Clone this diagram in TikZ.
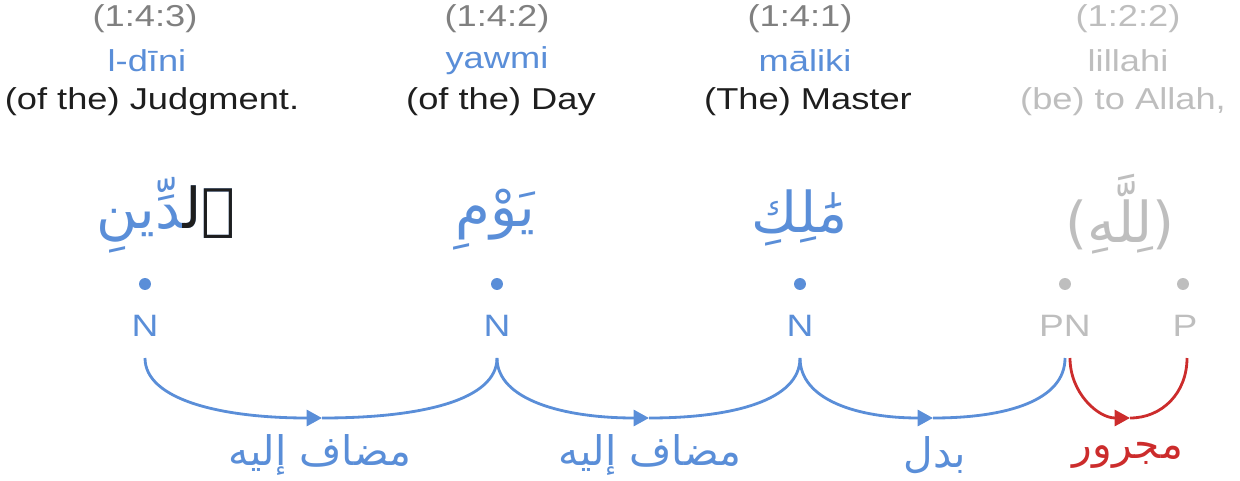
\documentclass[tikz,border=0pt]{standalone}
\usepackage{fontspec}
\setmainfont[FakeStretch=1.2]{Liberation Sans}
\newfontfamily\arabicfont[Script=Arabic]{DejaVu Sans}
\TeXXeTstate=1
\usetikzlibrary{arrows.meta}
\definecolor{cblue}{RGB}{90,142,216}
\definecolor{cred}{RGB}{204,44,44}
\definecolor{cgray}{RGB}{128,128,128}
\definecolor{clight}{RGB}{190,190,190}
\definecolor{cdark}{RGB}{30,30,30}
\tikzset{
  ref/.style={font=\fontsize{21.5}{24}\selectfont, text=cgray, inner sep=0pt},
  translit/.style={font=\fontsize{21.5}{24}\selectfont, inner sep=0pt},
  gloss/.style={font=\fontsize{21.5}{24}\selectfont, inner sep=0pt},
  arword/.style={font=\fontsize{40}{46}\arabicfont, inner sep=0pt},
  wdot/.style={circle, minimum size=8.5pt, inner sep=0pt},
  tag/.style={font=\fontsize{22}{26}\selectfont, inner sep=0pt},
  rel/.style={font=\fontsize{29}{34}\arabicfont, inner sep=0pt},
  arc/.style={line width=2pt, -{Triangle[length=11pt,width=11.5pt]}},
  arcn/.style={line width=2pt},
}
\begin{document}
\begin{tikzpicture}[x=0.025cm,y=-0.025cm]
\useasboundingbox (0,0) rectangle (1240,480);
% row 1: references
\node[ref] (r1) at (145,19) {(1:4:3)};
\node[ref] (r2) at (497,19) {(1:4:2)};
\node[ref] (r3) at (800,19) {(1:4:1)};
\node[ref, text=clight] (r4) at (1128,19) {(1:2:2)};
% row 2: transliteration
\node[translit, text=cblue] (l1) at (147,61) {l-dīni};
\node[translit, text=cblue] (l2) at (497,61) {yawmi};
\node[translit, text=cblue] (l3) at (805,61) {māliki};
\node[translit, text=clight] (l4) at (1128,61) {lillahi};
% row 3: gloss
\node[gloss, text=cdark] (g1) at (152,102) {(of the) Judgment.};
\node[gloss, text=cdark] (g2) at (501,102) {(of the) Day};
\node[gloss, text=cdark] (g3) at (808,102) {(The) Master};
\node[gloss, text=clight] (g4) at (1123,102) {(be) to Allah,};
% arabic words
\node[arword, text=cblue, anchor=east] (w1) at (236,215) {\beginR ٱلدِّينِ\endR};
\begin{scope}
  \clip (182,150) rectangle (260,270);
  \node[arword, text=cdark, anchor=east] (w1k) at (236,215) {\beginR ٱلدِّينِ\endR};
\end{scope}
\node[arword, text=cblue] (w2) at (495,220) {\beginR يَوْمِ\endR};
\node[arword, text=cblue] (w3) at (800,218) {\beginR مَٰلِكِ\endR};
\node[arword, text=clight] (w4) at (1120,214) {\beginR(لِلَّهِ)\endR};
% dots
\node[wdot, fill=cblue] (d1) at (145,284) {};
\node[wdot, fill=cblue] (d2) at (497,284) {};
\node[wdot, fill=cblue] (d3) at (800,284) {};
\node[wdot, fill=clight] (d4) at (1065,284) {};
\node[wdot, fill=clight] (d5) at (1183,284) {};
% tags
\node[tag, text=cblue] (t1) at (145,326) {N};
\node[tag, text=cblue] (t2) at (497,326) {N};
\node[tag, text=cblue] (t3) at (800,326) {N};
\node[tag, text=clight] (t4) at (1065,326) {PN};
\node[tag, text=clight] (t5) at (1185,326) {P};
% arc end points
\coordinate (a1) at (145,358);
\coordinate (a2) at (497,358);
\coordinate (a3) at (800,358);
\coordinate (a4) at (1065,358);
\coordinate (a4r) at (1070,358);
\coordinate (a5) at (1187,358);
\coordinate (m1) at (322,418);
\coordinate (m2) at (649,418);
\coordinate (m3) at (933,418);
\coordinate (m4) at (1130,418);
% arcs
\draw[arc, draw=cblue] (a1) .. controls +(0,42) and +(-100,0) .. (m1);
\draw[arcn, draw=cblue] (m1) .. controls +(100,0) and +(0,42) .. (a2);
\draw[arc, draw=cblue] (a2) .. controls +(0,42) and +(-85,0) .. (m2);
\draw[arcn, draw=cblue] (m2) .. controls +(85,0) and +(0,42) .. (a3);
\draw[arc, draw=cblue] (a3) .. controls +(0,42) and +(-75,0) .. (m3);
\draw[arcn, draw=cblue] (m3) .. controls +(75,0) and +(0,42) .. (a4);
\draw[arc, draw=cred] (a4r) .. controls +(0,35) and +(-32,0) .. (m4);
\draw[arcn, draw=cred] (m4) .. controls +(32,0) and +(0,35) .. (a5);
% relation labels
\node[rel, text=cblue] (e1) at (320,455) {\beginR مضاف إليه\endR};
\node[rel, text=cblue] (e2) at (650,455) {\beginR مضاف إليه\endR};
\node[rel, text=cblue] (e3) at (935,455) {\beginR بدل\endR};
\node[rel, text=cred] (e4) at (1128,455) {\beginR مجرور\endR};
\end{tikzpicture}
\end{document}
